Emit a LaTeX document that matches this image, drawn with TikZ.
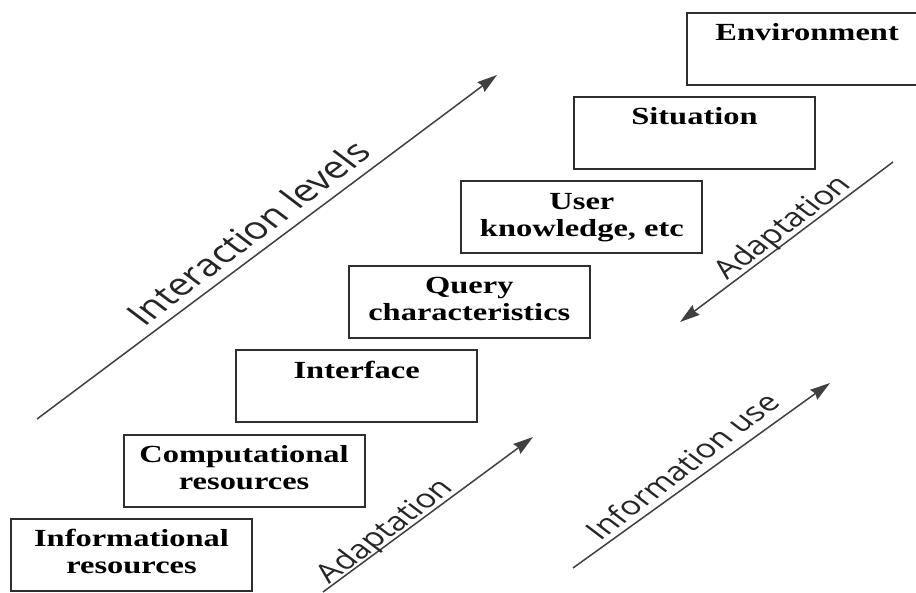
\documentclass[tikz,border=0pt]{standalone}
\usepackage{fontspec}
\setmainfont{Liberation Serif}
\newfontfamily\labfont{Open Sans}
\usetikzlibrary{arrows.meta}
\newcommand\wtext[1]{\scalebox{1.32}[1]{\begin{tabular}{@{}c@{}}#1\end{tabular}}}
\begin{document}
\begin{tikzpicture}[x=1pt,y=-1pt,
  box/.style={draw=black!82, line width=1.9pt, minimum width=241pt, minimum height=72pt,
    inner sep=0pt, font=\bfseries\fontsize{24.6}{27}\selectfont},
  lbl/.style={font=\labfont\fontsize{26}{30}\selectfont, text=black!85, inner sep=0pt},
  biglbl/.style={lbl, font=\labfont\fontsize{31}{34}\selectfont},
  arr/.style={draw=black!75, line width=1.5pt, -{Stealth[length=20pt,width=12pt,inset=2pt]}}]
\useasboundingbox (0,0) rectangle (916,592);
\clip (0,0) rectangle (916,592);
\fill[white] (0,0) rectangle (916,592);
% level boxes
\node[box] (info) at (131.5,555) {\wtext{Informational\\resources}};
\node[box] (comp) at (244.1,470.6) {\wtext{Computational\\resources}};
\node[box] (intf) at (356.7,386.2) {\wtext{Interface\\\mbox{}}};
\node[box] (query) at (469.3,301.8) {\wtext{Query\\characteristics}};
\node[box] (user) at (581.9,217.4) {\wtext{User\\knowledge, etc}};
\node[box] (situ) at (694.5,133) {\wtext{Situation\\\mbox{}}};
\node[box] (env) at (807.1,48.6) {\wtext{Environment\\\mbox{}}};
% arrow end points
\coordinate (il1) at (37,419);
\coordinate (il2) at (497,75);
\coordinate (ad1) at (323,592);
\coordinate (ad2) at (533,437);
\coordinate (iu1) at (573,568);
\coordinate (iu2) at (830,383);
\coordinate (au1) at (893,162);
\coordinate (au2) at (680,322);
\draw[arr] (il1) -- (il2);
\draw[arr] (ad1) -- (ad2);
\draw[arr] (iu1) -- (iu2);
\draw[arr] (au1) -- (au2);
% label positions
\coordinate (ilc) at (248,232.5);
\coordinate (adc) at (386,532);
\coordinate (iuc) at (682,466);
\coordinate (auc) at (783.7,228.3);
\begin{scope}[xscale=1.32, transform shape]
\node[biglbl, rotate=45] (iltxt) at (ilc) {Interaction levels};
\node[lbl, rotate=45] (adtxt) at (adc) {Adaptation};
\node[lbl, rotate=45] (iutxt) at (iuc) {Information use};
\node[lbl, rotate=45] (autxt) at (auc) {Adaptation};
\end{scope}
\end{tikzpicture}
\end{document}
